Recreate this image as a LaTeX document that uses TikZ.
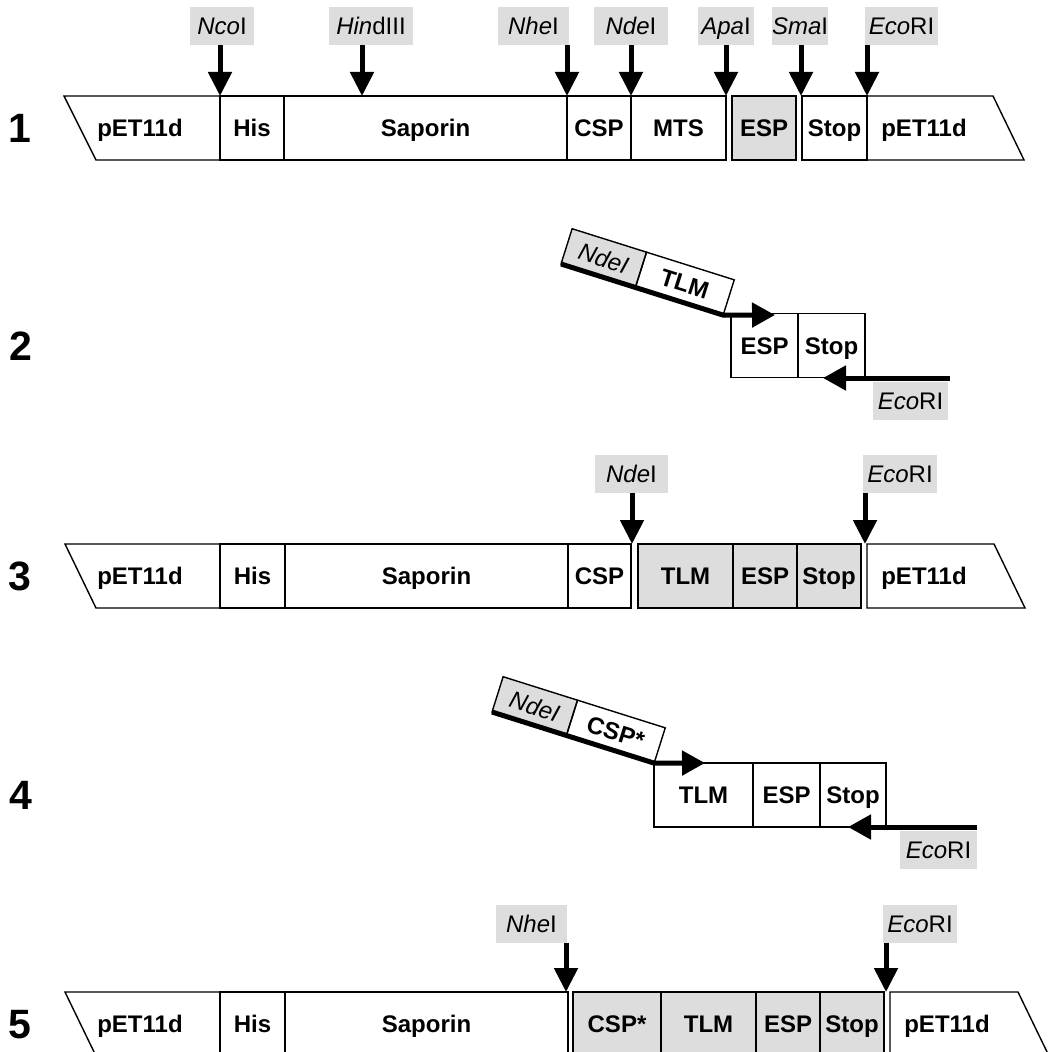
\documentclass[tikz,border=0pt]{standalone}
\usepackage{fontspec}
\setmainfont{Liberation Sans}
\usetikzlibrary{arrows.meta}
\definecolor{boxgray}{RGB}{221,221,221}
\begin{document}
\begin{tikzpicture}[x=1pt,y=-1pt,
  segbox/.style={draw, line width=1.4pt, minimum height=64pt, inner sep=0pt, outer sep=0pt,
    anchor=west, text height=17.5pt, text depth=0pt, font=\bfseries\fontsize{24}{28}\selectfont},
  segtext/.style={inner sep=0pt, text height=17.5pt, text depth=0pt, font=\bfseries\fontsize{24}{28}\selectfont},
  shaded/.style={fill=boxgray},
  plasmid/.style={draw, line width=1.4pt, line join=miter},
  enz/.style={fill=boxgray, minimum height=38pt, inner sep=0pt, outer sep=0pt,
    text height=17.5pt, text depth=0pt, font=\fontsize{24}{28}\selectfont},
  tiltbox/.style={draw, line width=1.4pt, minimum height=37pt, inner sep=0pt, outer sep=0pt,
    text height=17.5pt, text depth=0pt},
  num/.style={inner sep=0pt, text height=29pt, text depth=0pt, font=\bfseries\fontsize{41}{46}\selectfont},
  cut/.style={line width=5pt, -{Triangle[length=24pt,width=23pt]}},
  primer/.style={line width=5pt, line join=round, -{Triangle[length=23pt,width=24pt]}}]
\clip (0,0) rectangle (1064,1051);
\fill[white] (0,0) rectangle (1064,1051);

% ---------- Row 1 ----------
\node[num] (n1) at (20,128) {1};
\draw[plasmid] (64,96) -- (220,96) -- (220,160) -- (96,160) -- cycle;
\node[segtext] (r1petl) at (140,128) {pET11d};
\node[segbox, minimum width=64pt] (r1his) at (220,128) {His};
\node[segbox, minimum width=283pt] (r1sap) at (284,128) {Saporin};
\node[segbox, minimum width=64pt] (r1csp) at (567,128) {CSP};
\node[segbox, minimum width=95pt] (r1mts) at (631,128) {MTS};
\node[segbox, shaded, minimum width=64pt] (r1esp) at (732,128) {ESP};
\node[segbox, minimum width=65pt] (r1stop) at (802,128) {Stop};
\draw[plasmid] (867,96) -- (993,96) -- (1024,160) -- (867,160) -- cycle;
\node[segtext] (r1petr) at (924,128) {pET11d};

\node[enz, minimum width=64pt] (r1nco) at (222,26) {\textit{Nco}I};
\node[enz, minimum width=84pt] (r1hind) at (371,26) {\textit{Hin}dIII};
\node[enz, minimum width=71pt] (r1nhe) at (533.5,26) {\textit{Nhe}I};
\node[enz, minimum width=74pt] (r1nde) at (631,26) {\textit{Nde}I};
\node[enz, minimum width=56pt] (r1apa) at (726,26) {\textit{Apa}I};
\node[enz, minimum width=52pt] (r1sma) at (800,26) {\textit{Sma}I};
\node[enz, minimum width=73pt] (r1eco) at (901.5,26) {\textit{Eco}RI};

\coordinate (t1nco) at (220,96);
\coordinate (t1hind) at (362,96);
\coordinate (t1nhe) at (567,96);
\coordinate (t1nde) at (631,96);
\coordinate (t1apa) at (726,96);
\coordinate (t1sma) at (801,96);
\coordinate (t1eco) at (867,96);
\foreach \e in {nco,hind,nhe,nde,apa,sma,eco}
  \draw[cut] (t1\e |- r1\e.south) -- (t1\e);

% ---------- Row 2 ----------
\node[num] (n2) at (21,346) {2};
\begin{scope}[shift={(561,264)}, rotate=-17.5, transform shape]
  \node[tiltbox, shaded, minimum width=78pt, anchor=south west, font=\itshape\fontsize{24}{28}\selectfont] (r2nde) at (0,0) {NdeI};
  \node[tiltbox, minimum width=92pt, anchor=south west, font=\bfseries\fontsize{24}{28}\selectfont] (r2tlm) at (78,0) {TLM};
\end{scope}
\node[segbox, minimum width=67pt] (r2esp) at (731,345.5) {ESP};
\node[segbox, minimum width=67pt] (r2stop) at (798,345.5) {Stop};
\coordinate (r2tip) at (775,315);
\draw[primer] (r2nde.south west) -- (r2tlm.south east) -- (r2tip);
\node[enz, minimum width=75pt] (r2eco) at (910.5,401) {\textit{Eco}RI};
\coordinate (r2start) at (950,378);
\coordinate (r2rtip) at (823,378);
\draw[primer] (r2start) -- (r2rtip);

% ---------- Row 3 ----------
\node[num] (n3) at (20,576) {3};
\draw[plasmid] (65,544) -- (220,544) -- (220,608) -- (96,608) -- cycle;
\node[segtext] (r3petl) at (140,576) {pET11d};
\node[segbox, minimum width=65pt] (r3his) at (220,576) {His};
\node[segbox, minimum width=283pt] (r3sap) at (285,576) {Saporin};
\node[segbox, minimum width=63pt] (r3csp) at (568,576) {CSP};
\node[segbox, shaded, minimum width=95pt] (r3tlm) at (638,576) {TLM};
\node[segbox, shaded, minimum width=64pt] (r3esp) at (733,576) {ESP};
\node[segbox, shaded, minimum width=64pt] (r3stop) at (797,576) {Stop};
\draw[plasmid] (867,544) -- (994,544) -- (1025,608) -- (867,608) -- cycle;
\node[segtext] (r3petr) at (924,576) {pET11d};
\node[enz, minimum width=73pt] (r3nde) at (631.5,474) {\textit{Nde}I};
\node[enz, minimum width=74pt] (r3eco) at (900,474) {\textit{Eco}RI};
\coordinate (t3nde) at (632,544);
\coordinate (t3eco) at (865,544);
\draw[cut] (t3nde |- r3nde.south) -- (t3nde);
\draw[cut] (t3eco |- r3eco.south) -- (t3eco);

% ---------- Row 4 ----------
\node[num] (n4) at (21,795) {4};
\begin{scope}[shift={(492,712)}, rotate=-17.5, transform shape]
  \node[tiltbox, shaded, minimum width=78pt, anchor=south west, font=\itshape\fontsize{24}{28}\selectfont] (r4nde) at (0,0) {NdeI};
  \node[tiltbox, minimum width=92pt, anchor=south west, font=\bfseries\fontsize{24}{28}\selectfont] (r4csp) at (78,0) {CSP*};
\end{scope}
\node[segbox, minimum width=99pt] (r4tlm) at (654,795) {TLM};
\node[segbox, minimum width=67pt] (r4esp) at (753,795) {ESP};
\node[segbox, minimum width=66pt] (r4stop) at (820,795) {Stop};
\coordinate (r4tip) at (705,763);
\draw[primer] (r4nde.south west) -- (r4csp.south east) -- (r4tip);
\node[enz, minimum width=77pt] (r4eco) at (938.5,849.5) {\textit{Eco}RI};
\coordinate (r4start) at (977,827);
\coordinate (r4rtip) at (848,827);
\draw[primer] (r4start) -- (r4rtip);

% ---------- Row 5 ----------
\node[num] (n5) at (20,1024) {5};
\draw[plasmid] (65,992) -- (220,992) -- (220,1056) -- (96,1056) -- cycle;
\node[segtext] (r5petl) at (140,1024) {pET11d};
\node[segbox, minimum width=65pt] (r5his) at (220,1024) {His};
\node[segbox, minimum width=283pt] (r5sap) at (285,1024) {Saporin};
\node[segbox, shaded, minimum width=88pt] (r5csp) at (573,1024) {CSP*};
\node[segbox, shaded, minimum width=95pt] (r5tlm) at (661,1024) {TLM};
\node[segbox, shaded, minimum width=64pt] (r5esp) at (756,1024) {ESP};
\node[segbox, shaded, minimum width=64pt] (r5stop) at (820,1024) {Stop};
\draw[plasmid] (890,992) -- (1018,992) -- (1049,1056) -- (890,1056) -- cycle;
\node[segtext] (r5petr) at (947,1024) {pET11d};
\node[enz, minimum width=71pt] (r5nhe) at (531.5,923.5) {\textit{Nhe}I};
\node[enz, minimum width=74pt] (r5eco) at (920,923.5) {\textit{Eco}RI};
\coordinate (t5nhe) at (566,992);
\coordinate (t5eco) at (886,992);
\draw[cut] (t5nhe |- r5nhe.south) -- (t5nhe);
\draw[cut] (t5eco |- r5eco.south) -- (t5eco);
\end{tikzpicture}
\end{document}
